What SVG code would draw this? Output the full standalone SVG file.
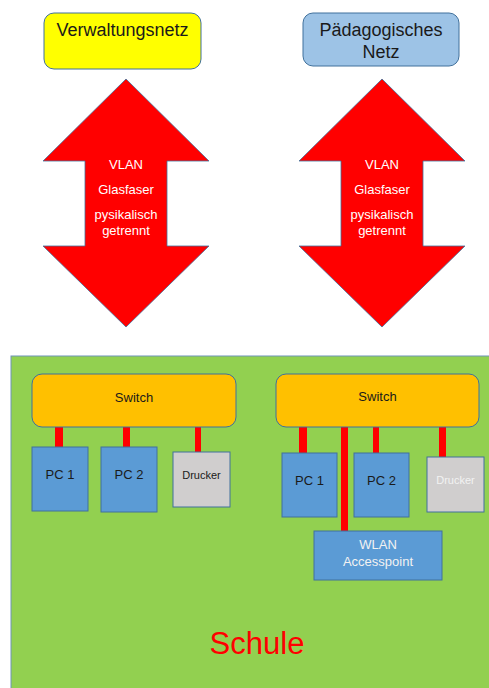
<svg xmlns="http://www.w3.org/2000/svg" width="489" height="688" viewBox="0 0 489 688">
<style>
text{font-family:"Liberation Sans",Arial,sans-serif;text-anchor:middle}
.bx{stroke:#41719C;stroke-width:1}
.arrow{fill:#FF0000;stroke:#41719C;stroke-width:0.8}
.at{fill:#FFFFFF;font-size:13px}
.dk{fill:#1A1A1A}
.link{fill:#FF0000;stroke:none}
</style>
<rect width="489" height="688" fill="#FFFFFF"/>
<g id="verwaltungsnetz">
<rect class="bx" x="44" y="13" width="157" height="56" rx="10" fill="#FFFF00"/>
<text class="dk" x="122.5" y="36" font-size="18">Verwaltungsnetz</text>
</g>
<g id="paedagogisches-netz">
<rect class="bx" x="303" y="13" width="156" height="53" rx="10" fill="#9DC3E6"/>
<text class="dk" x="381" y="36" font-size="18">Pädagogisches</text>
<text class="dk" x="381" y="58" font-size="18">Netz</text>
</g>
<g id="arrow-left">
<polygon class="arrow" points="126,79 209,161 167,161 167,246 209,246 126,327 43,246 85,246 85,161 43,161"/>
<text class="at" x="126" y="169">VLAN</text>
<text class="at" x="126" y="194">Glasfaser</text>
<text class="at" x="126" y="219">pysikalisch</text>
<text class="at" x="126" y="235">getrennt</text>
</g>
<g id="arrow-right">
<polygon class="arrow" points="382,79 465,161 423,161 423,246 465,246 382,327 299,246 341,246 341,161 299,161"/>
<text class="at" x="382" y="169">VLAN</text>
<text class="at" x="382" y="194">Glasfaser</text>
<text class="at" x="382" y="219">pysikalisch</text>
<text class="at" x="382" y="235">getrennt</text>
</g>
<g id="schule">
<rect x="11" y="356" width="480" height="334" fill="#92D050" stroke="#6F93B8" stroke-width="1"/>
<text x="257" y="654" font-size="31" fill="#FF0000">Schule</text>
</g>
<g id="connectors">
<rect class="link" x="55" y="427" width="8" height="20"/>
<rect class="link" x="123" y="427" width="7" height="20"/>
<rect class="link" x="195" y="427" width="6" height="25"/>
<rect class="link" x="299" y="427" width="8" height="26"/>
<rect class="link" x="341" y="427" width="7" height="104"/>
<rect class="link" x="373" y="427" width="6" height="26"/>
<rect class="link" x="439" y="427" width="7" height="30"/>
</g>
<g id="switch-left">
<rect class="bx" x="32" y="374" width="204" height="53" rx="10" fill="#FFC000"/>
<text class="dk" x="134" y="402" font-size="13">Switch</text>
</g>
<g id="switch-right">
<rect class="bx" x="276" y="374" width="203" height="53" rx="10" fill="#FFC000"/>
<text class="dk" x="377.5" y="401" font-size="13">Switch</text>
</g>
<g id="pc1-left">
<rect class="bx" x="32" y="447" width="56" height="64" fill="#5B9BD5"/>
<text class="dk" x="60" y="479" font-size="13">PC 1</text>
</g>
<g id="pc2-left">
<rect class="bx" x="101" y="447" width="56" height="65" fill="#5B9BD5"/>
<text class="dk" x="129" y="479" font-size="13">PC 2</text>
</g>
<g id="drucker-left">
<rect class="bx" x="173" y="452" width="57" height="55" fill="#D0CECE"/>
<text class="dk" x="201.5" y="479" font-size="11">Drucker</text>
</g>
<g id="pc1-right">
<rect class="bx" x="282" y="453" width="55" height="64" fill="#5B9BD5"/>
<text class="dk" x="309.5" y="485" font-size="13">PC 1</text>
</g>
<g id="pc2-right">
<rect class="bx" x="354" y="453" width="55" height="64" fill="#5B9BD5"/>
<text class="dk" x="381.5" y="485" font-size="13">PC 2</text>
</g>
<g id="drucker-right">
<rect class="bx" x="427" y="457" width="57" height="55" fill="#D0CECE"/>
<text x="455.5" y="484" font-size="11" fill="#F2F2F2">Drucker</text>
</g>
<g id="wlan-accesspoint">
<rect class="bx" x="314" y="531" width="128" height="49" fill="#5B9BD5"/>
<text x="378" y="549" font-size="13" fill="#F2F2F2">WLAN</text>
<text x="378" y="566" font-size="13" fill="#F2F2F2">Accesspoint</text>
</g>
</svg>
